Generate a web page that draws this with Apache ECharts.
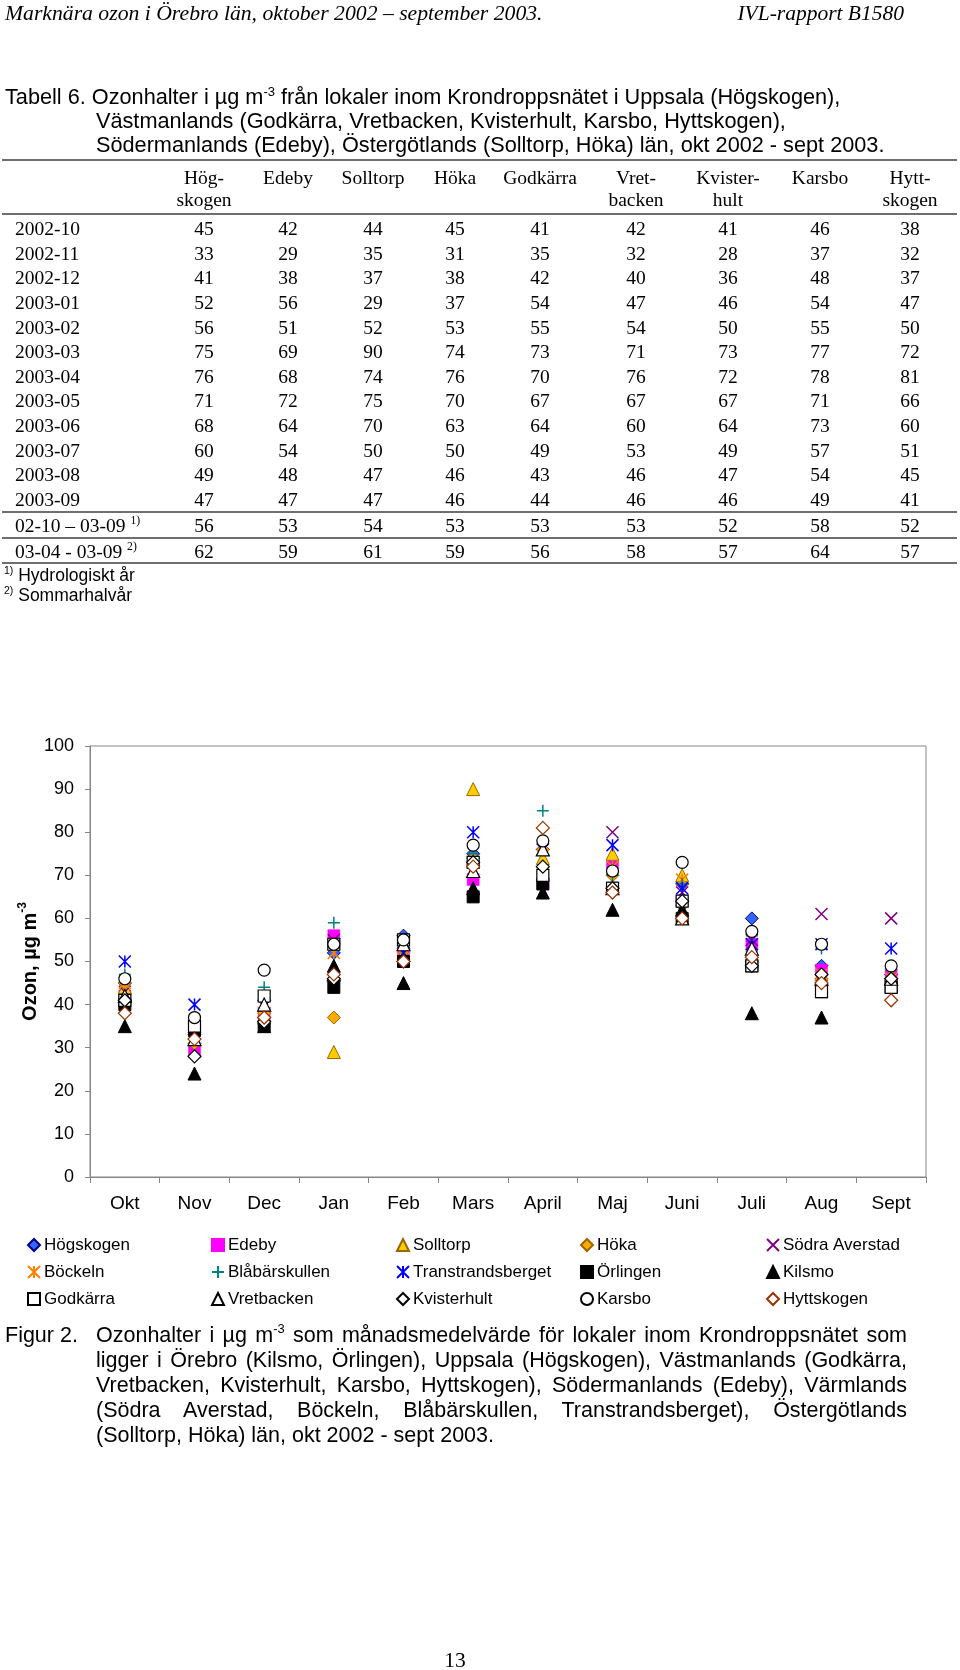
<!DOCTYPE html>
<html><head><meta charset="utf-8">
<script src="https://cdn.jsdelivr.net/npm/echarts@6/dist/echarts.min.js"></script>
<style>
html,body{margin:0;padding:0;background:#fff;}
body{width:960px;height:1670px;position:relative;overflow:hidden;}
#chart{position:absolute;left:0;top:0;width:960px;height:1670px;z-index:1;}
#page{position:absolute;left:0;top:0;width:960px;height:1670px;z-index:2;pointer-events:none;}
.t{position:absolute;white-space:nowrap;color:#000;}
.sans{font-family:"Liberation Sans",Arial,sans-serif;}
.serif{font-family:"Liberation Serif","Times New Roman",serif;}
.sup{font-size:0.6em;position:relative;top:-0.65em;}
.rule{position:absolute;left:2px;width:955px;height:2px;background:#6f6f6f;}
.just{text-align:justify;text-align-last:justify;white-space:normal;}
</style></head>
<body>
<div id="chart"></div>
<div id="page"></div>
<script>
// ---------- data ----------
const months = ['Okt','Nov','Dec','Jan','Feb','Mars','April','Maj','Juni','Juli','Aug','Sept'];
const tableRows = ['2002-10','2002-11','2002-12','2003-01','2003-02','2003-03','2003-04','2003-05','2003-06','2003-07','2003-08','2003-09'];
const hogskogen   = [45,33,41,52,56,75,76,71,68,60,49,47];
const edeby       = [42,29,38,56,51,69,68,72,64,54,48,47];
const solltorp    = [44,35,37,29,52,90,74,75,70,50,47,47];
const hoka        = [45,31,38,37,53,74,76,70,63,50,46,46];
const godkarra    = [41,35,42,54,55,73,70,67,64,49,43,44];
const vretbacken  = [42,32,40,47,54,71,76,67,60,53,46,46];
const kvisterhult = [41,28,36,46,50,73,72,67,64,49,47,46];
const karsbo      = [46,37,48,54,55,77,78,71,73,57,54,49];
const hyttskogen  = [38,32,37,47,50,72,81,66,60,51,45,41];
// stations only in the figure
const sodraAverstad     = [43,35,38,55,54,71,76,80,66,55,61,60];
const bockeln           = [45,32,38,52,53,73,77,72,69,51,47,46];
const blabarskullen     = [47,37,44,59,55,75,85,70,68,56,53,48];
const transtrandsberget = [50,40,40,54,52,80,76,77,67,54,54,53];
const orlingen          = [40,34,35,44,50,65,68,67,60,49,43,44];
const kilsmo            = [35,24,35,49,45,67,66,62,62,38,37,46];
// table summary rows
const tableHeads = [['Hög-','skogen'],['Edeby'],['Solltorp'],['Höka'],['Godkärra'],['Vret-','backen'],['Kvister-','hult'],['Karsbo'],['Hytt-','skogen']];
const hydYear    = [56,53,54,53,53,53,52,58,52];
const summerHalf = [62,59,61,59,56,58,57,64,57];
const yTicksMax = 100;

// ---------- page text ----------
const page = document.getElementById('page');
function txt(html, x, cy, cls, size, align, lh, extraStyle) {
  const d = document.createElement('div');
  d.className = 't ' + cls;
  lh = lh || Math.round(size * 1.2);
  d.style.fontSize = size + 'px';
  d.style.lineHeight = lh + 'px';
  d.style.height = lh + 'px';
  d.style.top = (cy - lh / 2) + 'px';
  if (align === 'center') { d.style.left = (x - 100) + 'px'; d.style.width = '200px'; d.style.textAlign = 'center'; }
  else if (align === 'right') { d.style.right = (960 - x) + 'px'; d.style.textAlign = 'right'; }
  else { d.style.left = x + 'px'; }
  if (extraStyle) d.setAttribute('style', d.getAttribute('style') + ';' + extraStyle);
  d.innerHTML = html;
  page.appendChild(d);
  return d;
}
function rule(y) { const r = document.createElement('div'); r.className = 'rule'; r.style.top = (y - 1) + 'px'; page.appendChild(r); }

txt('Marknära ozon i Örebro län, oktober 2002 – september 2003.', 5, 13, 'serif', 21.7, 'left', 24, 'font-style:italic');
txt('IVL-rapport B1580', 904, 13, 'serif', 21.5, 'right', 24, 'font-style:italic');

txt('Tabell 6. Ozonhalter i µg m<span class="sup">-3</span> från lokaler inom Krondroppsnätet i Uppsala (Högskogen),', 5, 97, 'sans', 21.7, 'left', 24);
txt('Västmanlands (Godkärra, Vretbacken, Kvisterhult, Karsbo, Hyttskogen),', 96, 121, 'sans', 21.7, 'left', 24);
txt('Södermanlands (Edeby), Östergötlands (Solltorp, Höka) län, okt 2002 - sept 2003.', 96, 145, 'sans', 21.7, 'left', 24);

const colX = [204,288,373,455,540,636,728,820,910];
const tableSeries = [hogskogen, edeby, solltorp, hoka, godkarra, vretbacken, kvisterhult, karsbo, hyttskogen];
rule(160);
tableHeads.forEach((h, j) => { h.forEach((line, k) => txt(line, colX[j], 178 + k * 22, 'serif', 19.5, 'center', 22)); });
rule(214);
tableRows.forEach((lab, i) => {
  const cy = 229 + i * 24.64;
  txt(lab, 15, cy, 'serif', 19.5, 'left', 22);
  tableSeries.forEach((s, j) => txt(String(s[i]), colX[j], cy, 'serif', 19.5, 'center', 22));
});
rule(512);
txt('02-10 – 03-09 <span class="sup">1)</span>', 15, 526, 'serif', 19.5, 'left', 22);
hydYear.forEach((v, j) => txt(String(v), colX[j], 526, 'serif', 19.5, 'center', 22));
rule(538);
txt('03-04 - 03-09 <span class="sup">2)</span>', 15, 552, 'serif', 19.5, 'left', 22);
summerHalf.forEach((v, j) => txt(String(v), colX[j], 552, 'serif', 19.5, 'center', 22));
rule(563);
txt('<span class="sup">1)</span> Hydrologiskt år', 4, 575, 'sans', 17.5, 'left', 20);
txt('<span class="sup">2)</span> Sommarhalvår', 4, 595, 'sans', 17.5, 'left', 20);

txt('Figur 2.', 5, 1335, 'sans', 21.5, 'left', 25);
const capLines = [
  'Ozonhalter i µg m<span class="sup">-3</span> som månadsmedelvärde för lokaler inom Krondroppsnätet som',
  'ligger i Örebro (Kilsmo, Örlingen), Uppsala (Högskogen), Västmanlands (Godkärra,',
  'Vretbacken, Kvisterhult, Karsbo, Hyttskogen), Södermanlands (Edeby), Värmlands',
  '(Södra Averstad, Böckeln, Blåbärskullen, Transtrandsberget), Östergötlands',
  '(Solltorp, Höka) län, okt 2002 - sept 2003.'
];
const capY = [1335, 1360, 1385, 1410, 1435];
capLines.forEach((l, i) => {
  const d = txt(l, 96, capY[i], 'sans', 21.5, 'left', 25);
  if (i < 4) { d.classList.add('just'); d.style.width = '811px'; }
});
txt('13', 455, 1660, 'serif', 21.5, 'center', 24);

// ---------- chart ----------
const FONT = '"Liberation Sans", Arial, sans-serif';
const X_PATH = 'path://M0,0L10,10M10,0L0,10';
const STAR_PATH = 'path://M0,0L10,10M10,0L0,10M5,0L5,10';
const PLUS_PATH = 'path://M5,0L5,10M0,5L10,5';
const NONE = 'rgba(0,0,0,0)';
function serie(name, data, symbol, size, fill, stroke, bw) {
  return { type: 'scatter', name, data, symbol, symbolSize: size,
    itemStyle: { color: fill, borderColor: stroke, borderWidth: bw, opacity: 1 },
    emphasis: { disabled: true }, silent: true };
}
const series = [
  serie('Högskogen', hogskogen, 'diamond', 13, '#3366FF', '#000080', 1),
  serie('Edeby', edeby, 'rect', 12, '#FF00FF', '#FF00FF', 0.5),
  serie('Solltorp', solltorp, 'triangle', 13, '#FFCC00', '#996600', 1),
  serie('Höka', hoka, 'diamond', 13, '#FFAA00', '#996600', 1),
  serie('Södra Averstad', sodraAverstad, X_PATH, 12, NONE, '#800080', 1.5),
  serie('Böckeln', bockeln, STAR_PATH, 12, NONE, '#FF8000', 1.5),
  serie('Blåbärskullen', blabarskullen, PLUS_PATH, 12, NONE, '#008080', 1.5),
  serie('Transtrandsberget', transtrandsberget, STAR_PATH, 12, NONE, '#0000FF', 1.5),
  serie('Örlingen', orlingen, 'rect', 12, '#000000', '#000000', 1),
  serie('Kilsmo', kilsmo, 'triangle', 13, '#000000', '#000000', 1),
  serie('Godkärra', godkarra, 'rect', 12, '#FFFFFF', '#000000', 1.2),
  serie('Vretbacken', vretbacken, 'triangle', 13, '#FFFFFF', '#000000', 1.2),
  serie('Kvisterhult', kvisterhult, 'diamond', 13, '#FFFFFF', '#000000', 1.2),
  serie('Karsbo', karsbo, 'circle', 12, '#FFFFFF', '#000000', 1.2),
  serie('Hyttskogen', hyttskogen, 'diamond', 13, '#FFFFFF', '#993300', 1.2)
];
const legendCols = [
  ['Högskogen','Böckeln','Godkärra'],
  ['Edeby','Blåbärskullen','Vretbacken'],
  ['Solltorp','Transtrandsberget','Kvisterhult'],
  ['Höka','Örlingen','Karsbo'],
  ['Södra Averstad','Kilsmo','Hyttskogen']
];
const legendLeft = [27, 211, 396, 580, 766];
const legends = legendCols.map((names, i) => ({
  orient: 'vertical', left: legendLeft[i], top: 1235, padding: 0,
  itemWidth: 12, itemHeight: 12, itemGap: 7, selectedMode: false,
  data: names,
  textStyle: { fontSize: 17, color: '#000', fontFamily: FONT, lineHeight: 20, padding: [0,0,0,-1] }
}));
const GRAY = '#868686';
const chart = echarts.init(document.getElementById('chart'), null, { renderer: 'canvas' });
chart.setOption({
  animation: false,
  backgroundColor: '#ffffff',
  textStyle: { fontFamily: FONT },
  grid: { left: 90, right: 34, top: 746, bottom: 493, show: true, borderColor: GRAY, borderWidth: 1, containLabel: false },
  legend: legends,
  xAxis: {
    type: 'category', data: months, boundaryGap: true,
    axisLine: { show: true, lineStyle: { color: GRAY, width: 1 } },
    axisTick: { show: true, length: 6, interval: 0, lineStyle: { color: GRAY } },
    axisLabel: { fontSize: 19, color: '#000', margin: 17, interval: 0, fontFamily: FONT },
    splitLine: { show: false }
  },
  yAxis: {
    type: 'value', min: 0, max: yTicksMax, interval: 10,
    axisLine: { show: true, lineStyle: { color: GRAY, width: 1 } },
    axisTick: { show: true, length: 5, lineStyle: { color: GRAY } },
    axisLabel: { fontSize: 18, color: '#000', margin: 16, fontFamily: FONT },
    splitLine: { show: false },
    name: 'Ozon, µg m{s|-3}', nameLocation: 'middle', nameRotate: 90, nameGap: 47, nameMoveOverlap: false,
    nameTextStyle: { fontSize: 20, fontWeight: 'bold', color: '#000', fontFamily: FONT, lineHeight: 26,
      rich: { s: { fontSize: 12, fontWeight: 'bold', color: '#000', fontFamily: FONT, verticalAlign: 'top', lineHeight: 12 } } }
  },
  series: series
});
</script>
</body></html>
